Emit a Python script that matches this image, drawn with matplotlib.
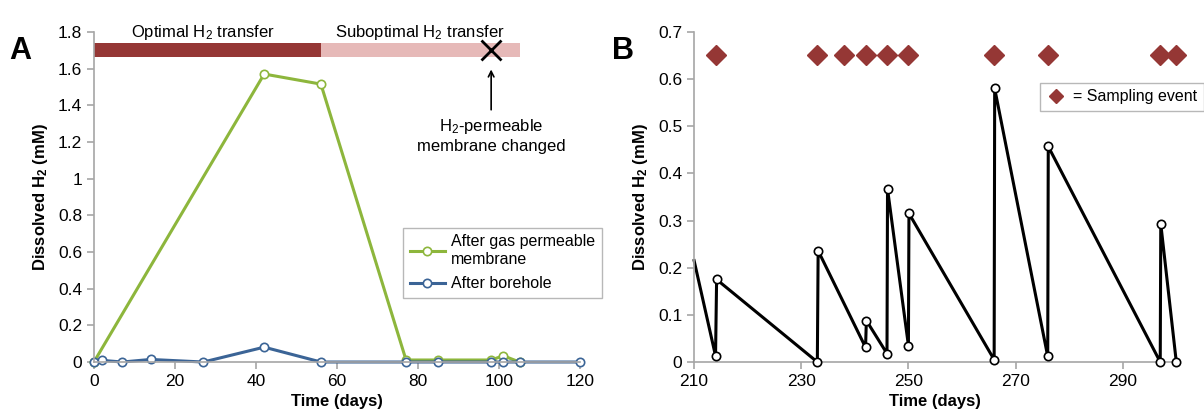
import numpy as np
import matplotlib
matplotlib.use("Agg")
import matplotlib.pyplot as plt
from matplotlib.ticker import FuncFormatter

plt.rcParams['font.family'] = ['Liberation Sans', 'DejaVu Sans']
plt.rcParams['mathtext.fontset'] = 'custom'
plt.rcParams['mathtext.rm'] = 'Liberation Sans'
plt.rcParams['mathtext.bf'] = 'Liberation Sans:bold'
plt.rcParams['mathtext.it'] = 'Liberation Sans:italic'

# --- panel A: H2 after membrane vs after borehole
dias_membrana = [0, 42, 56, 77, 85, 98, 101, 105]
h2_membrana = [0.0, 1.57, 1.515, 0.011, 0.011, 0.011, 0.034, 0.0]
dias_pozo = [0, 2, 7, 14, 27, 42, 56, 77, 85, 98, 101, 105, 120]
h2_pozo = [0.0, 0.009, 0.0, 0.014, 0.0, 0.081, 0.0, 0.0, 0.0, 0.0, 0.0, 0.0, 0.0]

# transfer periods (start, end)
periodo_optimo = (0, 56)
periodo_suboptimo = (56, 105)
dia_cambio = 98

# --- panel B: H2 in borehole, sawtooth between samplings
dias_b = [210, 214, 214.2, 233, 233.15, 242, 242.15, 246, 246.1, 250, 250.1,
          266, 266.1, 276, 276.1, 297, 297.1, 300]
h2_b = [0.215, 0.013, 0.175, 0.0, 0.236, 0.031, 0.088, 0.018, 0.367, 0.035, 0.315,
        0.005, 0.58, 0.012, 0.457, 0.0, 0.293, 0.0]
dias_muestreo = [214, 233, 238, 242, 246, 250, 266, 276, 297, 300]

verde = '#8DB63C'
azul = '#3B6496'
rojo = '#953735'
rosa = '#E6B9B8'
gris = '#A6A6A6'

def formato(v, pos):
    return ('%g' % round(v, 2))

def estilo(ax):
    for s in ['top', 'right']:
        ax.spines[s].set_visible(False)
    for s in ['left', 'bottom']:
        ax.spines[s].set_color(gris)
        ax.spines[s].set_linewidth(1.2)
    ax.tick_params(colors=gris, labelcolor='black', labelsize=12.5, length=5, width=1.2)
    ax.yaxis.set_major_formatter(FuncFormatter(formato))

fig = plt.figure(figsize=(12.04, 4.19), dpi=100)

axA = fig.add_axes([0.078, 0.136, 0.404, 0.788])
estilo(axA)
axA.plot(dias_membrana, h2_membrana, color=verde, lw=2.2, marker='o', ms=6,
         mfc='white', mec=verde, mew=1.2, label='After gas permeable\nmembrane', clip_on=False)
axA.plot(dias_pozo, h2_pozo, color=azul, lw=2.2, marker='o', ms=6,
         mfc='white', mec=azul, mew=1.2, label='After borehole', clip_on=False)
axA.set_xlim(0, 120)
axA.set_ylim(0, 1.8)
axA.set_xticks(np.arange(0, 121, 20))
axA.set_yticks(np.arange(0, 1.81, 0.2))
axA.set_xlabel('Time (days)', fontsize=12, fontweight='bold', labelpad=4)
axA.set_ylabel(r'Dissolved H$_\mathbf{2}$ (mM)', fontsize=12, fontweight='bold', labelpad=6)

# bars for transfer periods
axA.fill_between(periodo_optimo, 1.664, 1.738, color=rojo, lw=0)
axA.fill_between(periodo_suboptimo, 1.664, 1.738, color=rosa, lw=0)
axA.plot(dia_cambio, 1.70, marker='x', color='black', ms=14, mew=2)
axA.annotate('', xy=(dia_cambio, 1.61), xytext=(dia_cambio, 1.36),
             arrowprops=dict(arrowstyle='->', color='black', lw=1.2))
axA.text(dia_cambio, 1.335, 'H$_2$-permeable\nmembrane changed', ha='center', va='top',
         fontsize=12, linespacing=1.2)
axA.text(np.mean(periodo_optimo) - 1, 1.795, 'Optimal H$_2$ transfer', ha='center', va='center',
         fontsize=12)
axA.text(80.5, 1.795, 'Suboptimal H$_2$ transfer', ha='center', va='center', fontsize=12)

legA = axA.legend(loc='upper left', bbox_to_anchor=(0.62, 0.43), fontsize=11.5,
                  frameon=True, fancybox=False, edgecolor=gris, handlelength=2.2,
                  borderpad=0.4, labelspacing=0.6, handletextpad=0.4)
legA.get_frame().set_linewidth(1.0)
fig.text(0.008, 0.86, 'A', fontsize=22, fontweight='bold')

axB = fig.add_axes([0.5765, 0.136, 0.4005, 0.788])
estilo(axB)
axB.plot(dias_b, h2_b, color='black', lw=2.2, zorder=2, clip_on=False)
axB.plot(dias_b[1:], h2_b[1:], ls='none', marker='o', ms=6, mfc='white',
         mec='black', mew=1.2, zorder=3, clip_on=False)
axB.plot(dias_muestreo, [0.65] * len(dias_muestreo), ls='none', marker='D', ms=10,
         color=rojo, label='= Sampling event', clip_on=False)
axB.set_xlim(210, 300)
axB.set_ylim(0, 0.7)
axB.set_xticks(np.arange(210, 291, 20))
axB.set_yticks(np.arange(0, 0.71, 0.1))
axB.set_xlabel('Time (days)', fontsize=12, fontweight='bold', labelpad=4)
axB.set_ylabel(r'Dissolved H$_\mathbf{2}$ (mM)', fontsize=12, fontweight='bold', labelpad=6)
legB = axB.legend(loc='upper left', bbox_to_anchor=(0.70, 0.87), fontsize=11.5,
                  frameon=True, fancybox=False, edgecolor=gris, handlelength=1.2,
                  borderpad=0.4, handletextpad=0.5, markerscale=0.75)
legB.get_frame().set_linewidth(1.0)
fig.text(0.508, 0.86, 'B', fontsize=22, fontweight='bold')

fig.savefig('out.png', dpi=100)
